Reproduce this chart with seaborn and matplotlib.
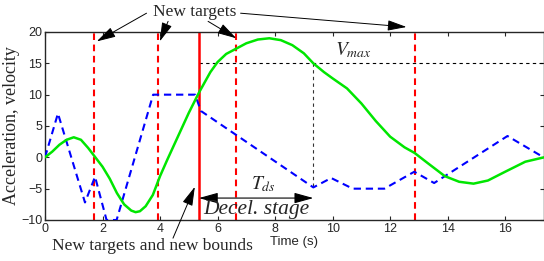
import numpy as np
import pandas as pd
import matplotlib
matplotlib.use("Agg")
import matplotlib.pyplot as plt
import seaborn as sns

# velocity (green)
time_vel = [0, 0.25, 0.5, 0.75, 1.0, 1.25, 1.5, 1.75, 2.0, 2.25, 2.5, 2.75, 3.0, 3.15,
            3.3, 3.5, 3.75, 4.0, 4.25, 4.5, 4.75, 5.0, 5.35, 5.75, 6.0, 6.3, 6.63, 7.0,
            7.4, 7.8, 8.2, 8.6, 9.0, 9.33, 9.7, 10.0, 10.5, 11.0, 11.5, 12.0, 12.5,
            12.85, 13.3, 13.9, 14.4, 14.9, 15.4, 16.0, 16.7, 17.35]
velocity = [0, 0.9, 2.0, 2.8, 3.2, 2.8, 1.5, 0.0, -1.5, -3.4, -5.7, -7.5, -8.5, -8.75,
            -8.6, -7.8, -6.0, -3.0, -0.4, 2.1, 4.6, 7.1, 10.3, 13.6, 15.2, 16.5, 17.3, 18.2,
            18.8, 19.0, 18.7, 17.9, 16.6, 15.0, 13.6, 12.6, 11.0, 8.6, 5.8, 3.3, 1.6,
            0.7, -0.9, -3.0, -3.9, -4.2, -3.7, -2.3, -0.7, 0.0]

# acceleration (blue, dashed)
time_acc = [0, 0.45, 1.39, 1.74, 2.14, 2.49, 3.76, 5.22, 5.42, 9.33, 9.95, 10.7, 11.8,
            12.84, 13.53, 16.08, 17.3]
acceleration = [0, 7.0, -7.2, -3.1, -10, -10, 10, 10, 7.4, -4.8, -3.3, -5.0, -5.0,
                -2.3, -4.1, 3.4, 0.1]

new_targets = [1.70, 3.92, 6.63, 12.85]
new_bounds = 5.35
v_max = 15
t_ds_end = 9.33
x_ticks = [0, 2, 4, 6, 8, 10, 12, 14, 16]
y_ticks = [-10, -5, 0, 5, 10, 15, 20]

vel_df = pd.DataFrame({"t": time_vel, "v": velocity})
acc_df = pd.DataFrame({"t": time_acc, "a": acceleration})

sns.set_style("ticks")
plt.rcParams["mathtext.fontset"] = "stix"

fig = plt.figure(figsize=(5.44, 2.61), dpi=100)
ax = fig.add_axes([45 / 544, 41 / 261, 1 - 45 / 544, 188 / 261])

for xt in new_targets:
    ax.axvline(xt, color="#ff0000", lw=1.5, linestyle=(0, (3.2, 2.2)), zorder=2)
ax.axvline(new_bounds, color="#ff0000", lw=1.8, zorder=2)

sns.lineplot(data=acc_df, x="t", y="a", ax=ax, color="#0000ff", lw=1.5,
             linestyle=(0, (3.5, 2.3)), sort=False, zorder=3)
sns.lineplot(data=vel_df, x="t", y="v", ax=ax, color="#00e600", lw=1.8, zorder=4)

ax.plot([new_bounds, 17.35], [v_max, v_max], color="black", lw=0.8,
        linestyle=(0, (3, 3)), zorder=1)
ax.plot([t_ds_end, t_ds_end], [v_max, -4.8], color="#333333", lw=0.8,
        linestyle=(0, (3, 3)), zorder=1)

ax.set_xlim(0, 17.35)
ax.set_ylim(-10, 20)
ax.set_xticks(x_ticks)
ax.set_yticks(y_ticks)
ax.tick_params(direction="in", top=True, right=True, length=3, width=0.8,
               labelsize=9, pad=2)
for lab in ax.get_xticklabels() + ax.get_yticklabels():
    lab.set_family("Liberation Sans")
for sp in ax.spines.values():
    sp.set_linewidth(1.0)

ax.set_xlabel("Time (s)", family="Liberation Sans", fontsize=9.5, labelpad=1)
ax.set_ylabel("Acceleration, velocity", family="Liberation Serif", fontsize=13,
              labelpad=1)

arrow_kw = dict(arrowstyle="-|>,head_length=0.9,head_width=0.25", color="black",
                lw=0.7, shrinkA=0, shrinkB=0, mutation_scale=13)

ax.text(5.21, 23.2, "New targets", family="Liberation Serif", fontsize=12.5,
        ha="center", va="center")
heads = [(1.80, 18.5), (3.99, 18.5), (6.65, 19.0), (12.57, 20.8)]
tails = [(3.53, 23.0), (4.28, 21.7), (5.67, 21.7), (6.80, 23.0)]
for h, tl in zip(heads, tails):
    ax.annotate("", xy=h, xytext=tl, arrowprops=arrow_kw, annotation_clip=False)

ax.text(3.73, -14.2, "New targets and new bounds", family="Liberation Serif",
        fontsize=12.5, ha="center", va="center")
ax.annotate("", xy=(5.21, -4.7), xytext=(4.45, -12.9), arrowprops=arrow_kw,
            annotation_clip=False)

ax.annotate("", xy=(new_bounds, -6.5), xytext=(t_ds_end, -6.5),
            arrowprops=dict(arrowstyle="<|-|>,head_length=0.9,head_width=0.25",
                            color="black", lw=0.8, shrinkA=0, shrinkB=0,
                            mutation_scale=13))
ax.text(7.58, -4.2, r"$T_{ds}$", fontsize=14, ha="center", va="center")
ax.text(7.34, -8.4, "Decel. stage", family="Liberation Serif", style="italic",
        fontsize=15.5, ha="center", va="center")
ax.text(10.72, 17.1, r"$V_{max}$", fontsize=14, ha="center", va="center")

fig.savefig("out.png", dpi=100)
